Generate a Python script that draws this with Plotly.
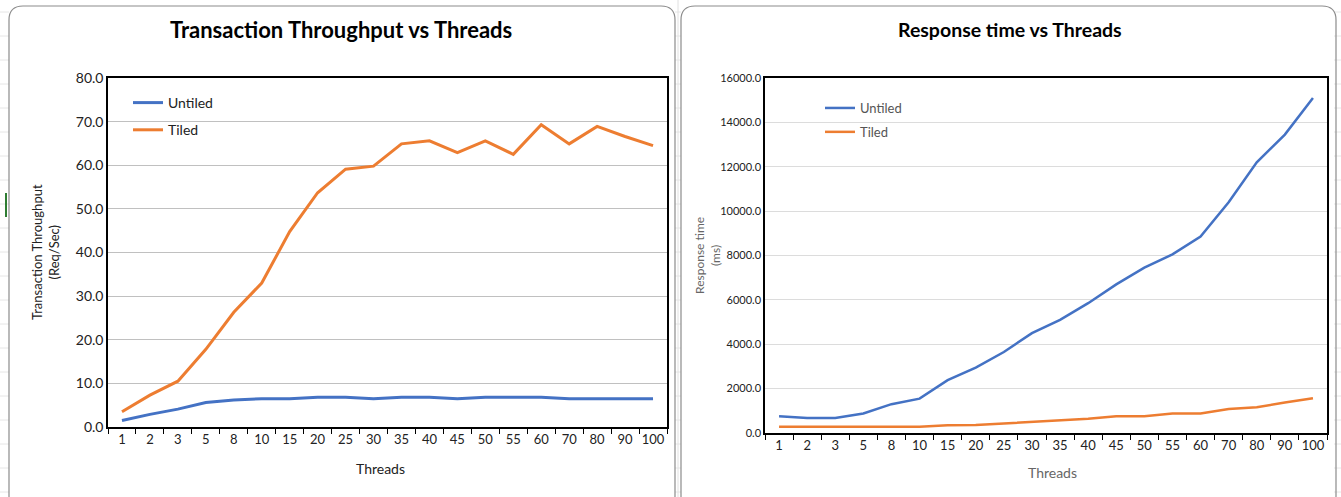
import plotly.graph_objects as go

threads = ["1", "2", "3", "5", "8", "10", "15", "20", "25", "30",
           "35", "40", "45", "50", "55", "60", "70", "80", "90", "100"]

# transaction throughput (Req/Sec)
tput_untiled = [1.5, 2.9, 4.1, 5.6, 6.2, 6.5, 6.5, 6.8, 6.8, 6.5,
                6.8, 6.8, 6.5, 6.8, 6.8, 6.8, 6.5, 6.5, 6.5, 6.5]
tput_tiled = [3.5, 7.3, 10.5, 17.8, 26.3, 33.0, 44.8, 53.7, 59.1, 59.8,
              64.9, 65.6, 62.9, 65.6, 62.5, 69.3, 64.9, 68.9, 66.6, 64.5]

# response time (ms)
resp_untiled = [750, 680, 680, 880, 1300, 1550, 2380, 2950, 3650, 4500,
                5100, 5850, 6700, 7450, 8050, 8850, 10400, 12200, 13450, 15100]
resp_tiled = [280, 280, 280, 280, 280, 280, 350, 360, 430, 500,
              560, 640, 760, 760, 880, 880, 1080, 1160, 1370, 1570]

blue = '#4472C4'
orange = '#ED7D31'
font = 'Lato'
W, H = 1341, 497

fig = go.Figure()

# left chart
fig.add_trace(go.Scatter(x=threads, y=tput_untiled, mode='lines', name='Untiled',
                         line=dict(color=blue, width=3), legend='legend', legendgroup='a',
                         xaxis='x', yaxis='y'))
fig.add_trace(go.Scatter(x=threads, y=tput_tiled, mode='lines', name='Tiled',
                         line=dict(color=orange, width=3), legend='legend', legendgroup='b',
                         xaxis='x', yaxis='y'))
# right chart
fig.add_trace(go.Scatter(x=threads, y=resp_untiled, mode='lines', name='Untiled',
                         line=dict(color=blue, width=2.5), legend='legend2', legendgroup='c',
                         xaxis='x2', yaxis='y2'))
fig.add_trace(go.Scatter(x=threads, y=resp_tiled, mode='lines', name='Tiled',
                         line=dict(color=orange, width=2.5), legend='legend2', legendgroup='d',
                         xaxis='x2', yaxis='y2'))

def px(x):
    return x / W

def py(y):
    return 1 - y / H

def rounded(x0, y0, x1, y1, r):
    # rounded rect in paper coords from pixel coords
    rx, ry = r / W, r / H
    a, b, c, d = px(x0), py(y0), px(x1), py(y1)
    return (f"M {a+rx},{b} L {c-rx},{b} Q {c},{b} {c},{b-ry} "
            f"L {c},{d+ry} Q {c},{d} {c-rx},{d} L {a+rx},{d} "
            f"Q {a},{d} {a},{d+ry} L {a},{b-ry} Q {a},{b} {a+rx},{b} Z")

shapes = []
# faint spreadsheet grid in background
for yy in range(12, H, 24):
    for (xa, xb) in [(0, 9), (675, 681), (1334, 1341)]:
        shapes.append(dict(type='line', xref='paper', yref='paper',
                           x0=px(xa), x1=px(xb), y0=py(yy), y1=py(yy),
                           line=dict(color='#e6e6e6', width=1), layer='below'))
shapes.append(dict(type='line', xref='paper', yref='paper', x0=px(678), x1=px(678),
                   y0=0, y1=1, line=dict(color='#e0e0e0', width=1), layer='below'))
shapes.append(dict(type='line', xref='paper', yref='paper', x0=px(6), x1=px(6),
                   y0=py(193), y1=py(217), line=dict(color='#2e7d32', width=2), layer='below'))
# chart panels
shapes.append(dict(type='path', xref='paper', yref='paper', path=rounded(9, 6, 675, 510, 14),
                   line=dict(color='#8c8c8c', width=1.2), fillcolor='rgba(0,0,0,0)', layer='below'))
shapes.append(dict(type='path', xref='paper', yref='paper', path=rounded(681, 6, 1336, 510, 14),
                   line=dict(color='#8c8c8c', width=1.2), fillcolor='rgba(0,0,0,0)', layer='below'))

axis_x = dict(type='category', tickson='boundaries', ticks='outside', ticklen=5,
              tickcolor='black', showline=True, linecolor='black', linewidth=1.5,
              mirror=True, showgrid=False, range=[-0.5, 19.5], tickangle=0,
              automargin=False, tickfont=dict(family=font, size=13, color='#222'))
axis_y = dict(showline=True, linecolor='black', linewidth=1.5, mirror=True,
              showgrid=True, gridwidth=1, zeroline=False, ticks='', tickformat='.1f',
              automargin=False)

def note(text, x, y, size, color, bold=False, angle=0):
    return dict(text=f'<b>{text}</b>' if bold else text, x=px(x), y=py(y),
                xref='paper', yref='paper', showarrow=False, textangle=angle,
                xanchor='center', yanchor='middle',
                font=dict(family=font, size=size, color=color))

fig.update_layout(
    width=W, height=H,
    margin=dict(l=0, r=0, t=0, b=0, autoexpand=False),
    paper_bgcolor='white', plot_bgcolor='white',
    font=dict(family=font, color='#222'),
    shapes=shapes,
    xaxis=dict(axis_x, domain=[px(108), px(667)], anchor='y'),
    yaxis=dict(axis_y, domain=[py(427), py(78)], anchor='x', range=[0, 80], dtick=10,
               gridcolor='#c0c0c0', tickfont=dict(family=font, size=14, color='#222')),
    xaxis2=dict(axis_x, domain=[px(765), px(1327)], anchor='y2'),
    yaxis2=dict(axis_y, domain=[py(433), py(78)], anchor='x2', range=[0, 16000], dtick=2000,
                gridcolor='#dcdcdc', tickfont=dict(family=font, size=11, color='#222')),
    legend=dict(x=px(128), y=py(87), xanchor='left', yanchor='top', itemwidth=30,
                bgcolor='rgba(0,0,0,0)', tracegroupgap=6,
                font=dict(family=font, size=14, color='#222')),
    legend2=dict(x=px(820), y=py(93), xanchor='left', yanchor='top', itemwidth=30,
                 bgcolor='rgba(0,0,0,0)', tracegroupgap=4,
                 font=dict(family=font, size=13, color='#555')),
    annotations=[
        note('Transaction Throughput vs Threads', 341, 30, 22, 'black', bold=True),
        note('Response time vs Threads', 1010, 29, 19.5, 'black', bold=True),
        note('Threads', 380, 468, 14, '#222'),
        note('Threads', 1052, 472, 14, '#666'),
        note('Transaction Throughput<br>(Req/Sec)', 45, 252, 13, '#222', angle=-90),
        note('Response time<br>(ms)', 707, 256, 12, '#666', angle=-90),
    ],
)

# the page body has a default margin; drop it so the figure sits at the window corner
fig.write_html("out.html", config={'displayModeBar': False},
               post_script="document.body.style.margin='0';")
